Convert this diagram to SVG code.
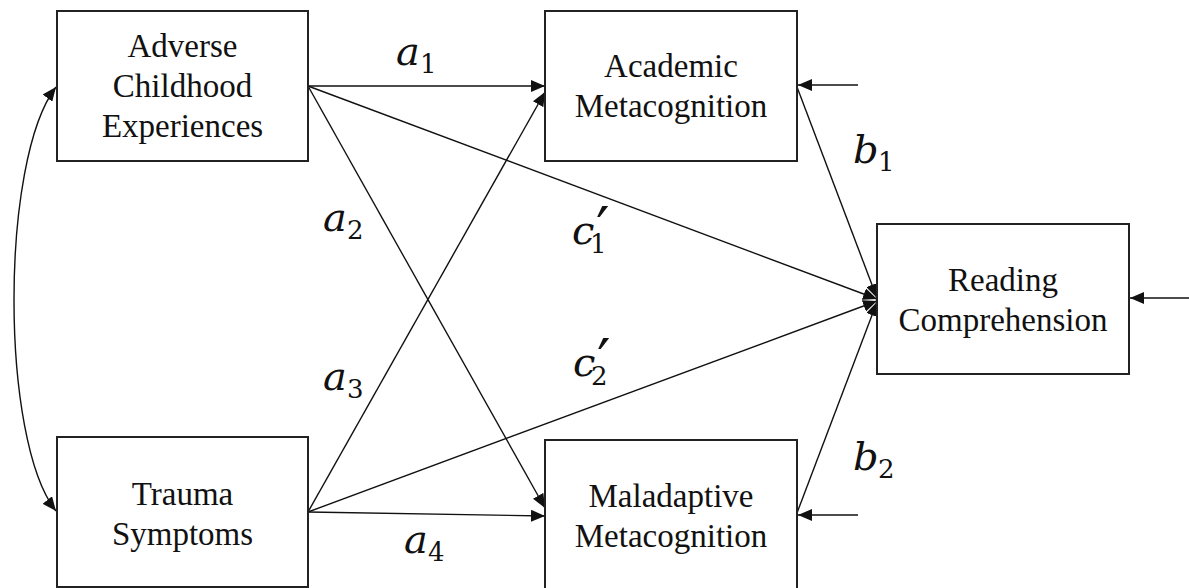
<svg xmlns="http://www.w3.org/2000/svg" width="1189" height="588" viewBox="0 0 1189 588">
<style>
.box{fill:#fff;stroke:#222;stroke-width:2}
.lbl{font-family:"Liberation Serif","Times New Roman",serif;font-size:33px;fill:#111;text-anchor:middle}
.con{fill:none;stroke:#111;stroke-width:1.4}
.m{font-family:"DejaVu Serif",serif;font-size:40px;font-style:italic;fill:#111}
.s{font-family:"DejaVu Serif",serif;font-size:26px;font-style:normal;fill:#111}
.p{font-family:"DejaVu Sans",sans-serif;font-size:60px;font-style:normal;fill:#111}
</style>
<defs>
<marker id="ah" markerUnits="userSpaceOnUse" markerWidth="14" markerHeight="12" viewBox="0 0 14 12" refX="14" refY="6" orient="auto-start-reverse">
<path d="M0,0 L14,6 L0,12 Z" fill="#111"/>
</marker>
</defs>
<g id="connectors">
<line class="con" x1="308" y1="86" x2="545" y2="86" marker-end="url(#ah)"/>
<line class="con" x1="308" y1="86" x2="545" y2="508" marker-end="url(#ah)"/>
<line class="con" x1="308" y1="86" x2="877" y2="299" marker-end="url(#ah)"/>
<line class="con" x1="308" y1="512" x2="545" y2="92" marker-end="url(#ah)"/>
<line class="con" x1="308" y1="512" x2="545" y2="516" marker-end="url(#ah)"/>
<line class="con" x1="308" y1="512" x2="877" y2="301" marker-end="url(#ah)"/>
<line class="con" x1="797" y1="87" x2="877" y2="298" marker-end="url(#ah)"/>
<line class="con" x1="797" y1="513" x2="877" y2="302" marker-end="url(#ah)"/>
<line class="con" x1="858" y1="85" x2="798" y2="85" marker-end="url(#ah)"/>
<line class="con" x1="858" y1="515" x2="798" y2="515" marker-end="url(#ah)"/>
<line class="con" x1="1189" y1="298" x2="1130" y2="298" marker-end="url(#ah)"/>
<path class="con" d="M56,87 C0,160 0,440 56,511" marker-start="url(#ah)" marker-end="url(#ah)"/>
</g>
<g id="ace">
<rect class="box" x="57" y="11" width="251" height="150"/>
<text class="lbl" x="182.5" y="57">Adverse</text>
<text class="lbl" x="182.5" y="97">Childhood</text>
<text class="lbl" x="182.5" y="137">Experiences</text>
</g>
<g id="trauma">
<rect class="box" x="57" y="437" width="251" height="150"/>
<text class="lbl" x="182.5" y="505">Trauma</text>
<text class="lbl" x="182.5" y="545">Symptoms</text>
</g>
<g id="academic">
<rect class="box" x="545" y="11" width="252" height="150"/>
<text class="lbl" x="671" y="77">Academic</text>
<text class="lbl" x="671" y="117">Metacognition</text>
</g>
<g id="maladaptive">
<rect class="box" x="545" y="440" width="252" height="150"/>
<text class="lbl" x="671" y="507">Maladaptive</text>
<text class="lbl" x="671" y="547">Metacognition</text>
</g>
<g id="reading">
<rect class="box" x="877" y="224" width="252" height="150"/>
<text class="lbl" x="1003" y="291">Reading</text>
<text class="lbl" x="1003" y="331">Comprehension</text>
</g>
<g id="labels">
<text class="m" x="396" y="65">a<tspan class="s" x="420" y="73">1</tspan></text>
<text class="m" x="323" y="231">a<tspan class="s" x="347" y="239">2</tspan></text>
<text class="m" x="323" y="390">a<tspan class="s" x="347" y="398">3</tspan></text>
<text class="m" x="404" y="553">a<tspan class="s" x="428" y="561">4</tspan></text>
<text class="m" x="853" y="163">b<tspan class="s" x="878" y="171">1</tspan></text>
<text class="m" x="853" y="470">b<tspan class="s" x="878" y="478">2</tspan></text>
<text class="m" x="572" y="244">c<tspan class="p" x="596" y="250">′</tspan><tspan class="s" x="590" y="253">1</tspan></text>
<text class="m" x="573" y="376">c<tspan class="p" x="597" y="382">′</tspan><tspan class="s" x="591" y="385">2</tspan></text>
</g>
</svg>
